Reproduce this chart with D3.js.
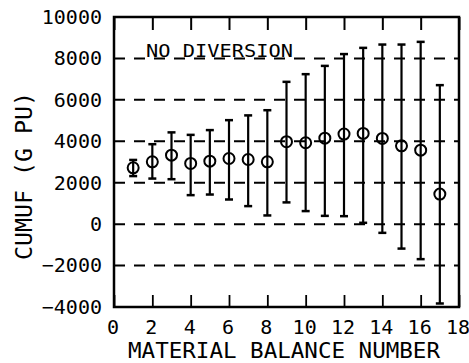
<!DOCTYPE html>
<html>
<head>
<meta charset="utf-8">
<script src="https://cdn.jsdelivr.net/npm/d3@7"></script>
<style>
html,body{margin:0;padding:0;background:#fff;}
svg{display:block;}
text{font-family:"DejaVu Sans Mono",monospace;fill:#000;}
</style>
</head>
<body>
<svg id="chart" width="469" height="363"></svg>
<script>
// Data
const balanceNumber = [1,2,3,4,5,6,7,8,9,10,11,12,13,14,15,16,17];
const cumuf = [2720,3010,3330,2930,3040,3170,3120,3010,3980,3930,4150,4350,4380,4140,3780,3570,1450];
const upper = [3100,3860,4430,4310,4540,5020,5250,5500,6870,7240,7640,8210,8510,8670,8670,8800,6710];
const lower = [2320,2200,2170,1400,1430,1190,870,420,1050,630,400,385,65,-420,-1180,-1690,-3830];
const xTicks = [0,2,4,6,8,10,12,14,16,18];
const yTicks = [-4000,-2000,0,2000,4000,6000,8000,10000];
const gridValues = [-2000,0,2000,4000,6000,8000];
const xTitle = "MATERIAL BALANCE NUMBER";
const yTitle = "CUMUF (G PU)";
const annotation = "NO DIVERSION";

const L = 114, R = 459, T = 17, B = 307;
const svg = d3.select("#chart");
const x = d3.scaleLinear().domain([0,18]).range([L,R]);
const y = d3.scaleLinear().domain([-4000,10000]).range([B,T]);

// grid
svg.append("g").selectAll("line").data(gridValues).join("line")
  .attr("x1", L).attr("x2", R)
  .attr("y1", d => y(d)).attr("y2", d => y(d))
  .attr("stroke", "#000").attr("stroke-width", 2)
  .attr("stroke-dasharray", "11,9");

// annotation
svg.append("text").attr("x", 146).attr("y", 57)
  .attr("font-size", 18).attr("textLength", 147).attr("lengthAdjust", "spacingAndGlyphs")
  .text(annotation);

// bottom axis
const gx = svg.append("g").attr("transform", `translate(0,${B})`)
  .call(d3.axisBottom(x).tickValues(xTicks).tickSizeInner(-12).tickSizeOuter(0).tickPadding(13).tickFormat(d3.format("d")));
gx.select(".domain").remove();
gx.selectAll("line").attr("stroke", "#000").attr("stroke-width", 1.8);
gx.selectAll("text").attr("font-size", 20).attr("dx", -1.5).style("font-family", "'DejaVu Sans Mono',monospace");

// top axis (ticks only)
const gt = svg.append("g").attr("transform", `translate(0,${T})`)
  .call(d3.axisTop(x).tickValues(xTicks).tickSizeInner(-13).tickSizeOuter(0).tickFormat(""));
gt.select(".domain").remove();
gt.selectAll("line").attr("stroke", "#000").attr("stroke-width", 2);

// left axis labels
const gy = svg.append("g").attr("transform", `translate(${L},0)`)
  .call(d3.axisLeft(y).tickValues(yTicks).tickSize(0).tickPadding(12).tickFormat(d3.format("d")));
gy.select(".domain").remove();
gy.selectAll("text").attr("font-size", 20).style("font-family", "'DejaVu Sans Mono',monospace");

// frame
svg.append("rect").attr("x", L).attr("y", T).attr("width", R-L).attr("height", B-T)
  .attr("fill", "none").attr("stroke", "#000").attr("stroke-width", 2.5);

// error bars
const idx = d3.range(balanceNumber.length);
const g = svg.append("g");
g.selectAll("line.bar").data(idx).join("line").attr("class","bar")
  .attr("x1", i => x(balanceNumber[i])).attr("x2", i => x(balanceNumber[i]))
  .attr("y1", i => y(upper[i])).attr("y2", i => y(lower[i]))
  .attr("stroke", "#000").attr("stroke-width", 2.2);
g.selectAll("line.capu").data(idx).join("line").attr("class","capu")
  .attr("x1", i => x(balanceNumber[i]) - 4).attr("x2", i => x(balanceNumber[i]) + 4)
  .attr("y1", i => y(upper[i])).attr("y2", i => y(upper[i]))
  .attr("stroke", "#000").attr("stroke-width", 2.5);
g.selectAll("line.capl").data(idx).join("line").attr("class","capl")
  .attr("x1", i => x(balanceNumber[i]) - 4).attr("x2", i => x(balanceNumber[i]) + 4)
  .attr("y1", i => y(lower[i])).attr("y2", i => y(lower[i]))
  .attr("stroke", "#000").attr("stroke-width", 2.5);
g.selectAll("circle").data(idx).join("circle")
  .attr("cx", i => x(balanceNumber[i])).attr("cy", i => y(cumuf[i]))
  .attr("r", 5.5).attr("fill", "none").attr("stroke", "#000").attr("stroke-width", 2);

// titles
svg.append("text").attr("x", 284).attr("y", 358).attr("text-anchor", "middle")
  .attr("font-size", 21).attr("textLength", 312).attr("lengthAdjust", "spacingAndGlyphs")
  .text(xTitle);
svg.append("text").attr("transform", "translate(32,176) rotate(-90)").attr("text-anchor", "middle")
  .attr("font-size", 23).attr("textLength", 168).attr("lengthAdjust", "spacingAndGlyphs")
  .text(yTitle);
</script>
</body>
</html>
